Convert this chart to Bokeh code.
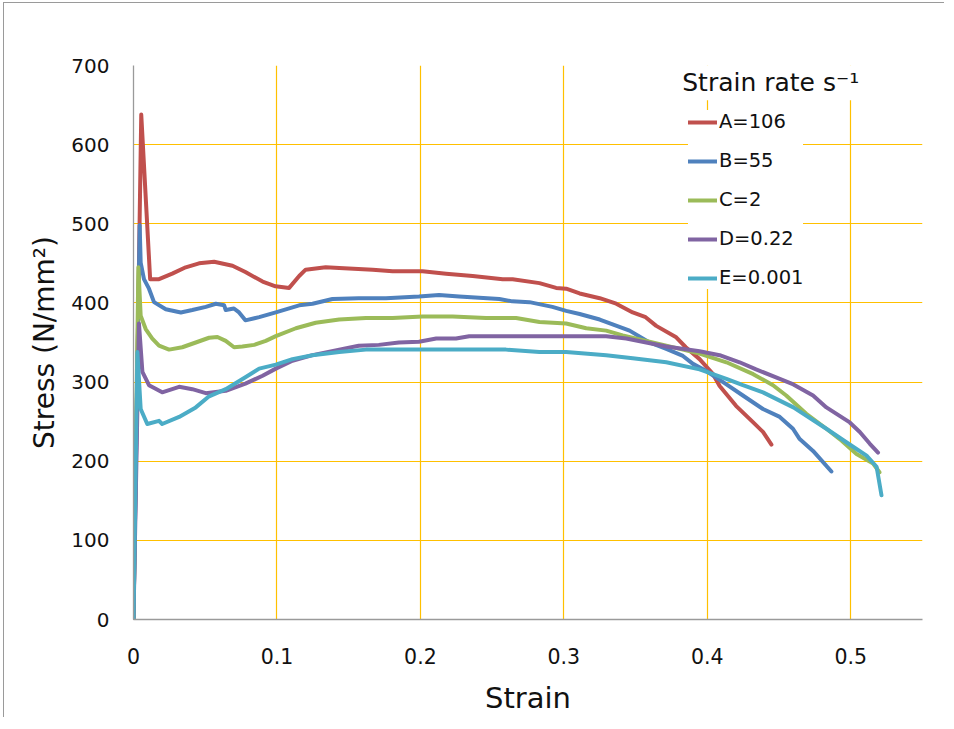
from bokeh.plotting import figure
from bokeh.models import (Range1d, FixedTicker, NumeralTickFormatter, Legend, LegendItem,
                          BoxAnnotation, Label)
from bokeh.embed import file_html
from bokeh.resources import INLINE

# ---- data ----
a_strain = [0, 0.0054, 0.0116, 0.0178, 0.027, 0.0364, 0.0457, 0.0562, 0.069, 0.078, 0.090, 0.099,
            0.1085, 0.1155, 0.120, 0.134, 0.1434, 0.1667, 0.1806, 0.2015, 0.2179, 0.2364, 0.2574,
            0.2643, 0.283, 0.2946, 0.3016, 0.311, 0.325, 0.3365, 0.348, 0.357, 0.3644, 0.378,
            0.385, 0.3946, 0.404, 0.4086, 0.420, 0.432, 0.4388, 0.4447]
a_stress = [0, 638, 430, 430, 437, 445, 450, 452, 447, 439, 427, 421,
            419, 434, 442, 445, 444, 442, 440, 440, 437, 434, 430,
            430, 425, 419, 418, 412, 406, 399, 388, 382, 371, 357,
            344, 329, 310, 295, 270, 249, 237, 221]

b_strain = [0, 0.0043, 0.005, 0.0073, 0.0108, 0.0143, 0.0225, 0.033, 0.041, 0.0504, 0.0574, 0.0632,
            0.0643, 0.070, 0.0736, 0.078, 0.0876, 0.0992, 0.1155, 0.1248, 0.1387, 0.157, 0.176,
            0.199, 0.213, 0.227, 0.255, 0.264, 0.276, 0.292, 0.3016, 0.311, 0.325, 0.334, 0.3458,
            0.3597, 0.3714, 0.383, 0.390, 0.3993, 0.411, 0.4248, 0.4388, 0.4505, 0.4597, 0.4644,
            0.4737, 0.4865]
b_stress = [0, 498, 451, 430, 418, 401, 392, 388, 391, 395, 399, 397,
            391, 393, 388, 378, 382, 388, 397, 399, 405, 406, 406,
            408, 410, 408, 405, 402, 401, 395, 390, 386, 379, 373, 365,
            350, 342, 333, 323, 314, 300, 283, 266, 256, 241, 228,
            213, 187]

c_strain = [0, 0.0034, 0.005, 0.0085, 0.0131, 0.0178, 0.0248, 0.034, 0.0434, 0.0527, 0.0585, 0.0643,
            0.0701, 0.0759, 0.0841, 0.0922, 0.0992, 0.1132, 0.127, 0.1434, 0.162, 0.1806, 0.2015,
            0.2225, 0.2458, 0.2667, 0.283, 0.3016, 0.3156, 0.3295, 0.341, 0.3574, 0.3714, 0.3946,
            0.4133, 0.432, 0.4458, 0.455, 0.469, 0.483, 0.4923, 0.504, 0.5156, 0.520]
c_stress = [0, 445, 384, 367, 355, 346, 341, 344, 350, 356, 357, 352,
            344, 345, 347, 352, 358, 368, 375, 379, 381, 381, 383,
            383, 381, 381, 376, 374, 368, 365, 359, 352, 346, 336,
            325, 310, 296, 283, 260, 241, 228, 209, 197, 186]

d_strain = [0, 0.0038, 0.0062, 0.0108, 0.020, 0.0318, 0.041, 0.0504, 0.0643, 0.078, 0.090, 0.0992,
            0.1108, 0.1248, 0.1434, 0.157, 0.171, 0.185, 0.199, 0.211, 0.2248, 0.234, 0.255,
            0.3295, 0.3435, 0.3574, 0.3714, 0.3946, 0.4086, 0.4225, 0.434, 0.4505, 0.46, 0.4737,
            0.483, 0.4993, 0.5063, 0.5133, 0.519]
d_stress = [0, 374, 313, 296, 287, 294, 291, 286, 289, 298, 308, 317,
            327, 334, 341, 346, 347, 350, 351, 355, 355, 358, 358,
            358, 355, 350, 345, 339, 334, 325, 316, 304, 297, 283,
            268, 249, 237, 222, 211]

e_strain = [0, 0.0027, 0.005, 0.0096, 0.0178, 0.020, 0.0318, 0.0434, 0.0527, 0.0643, 0.078, 0.0876,
            0.0992, 0.1108, 0.1248, 0.1434, 0.162, 0.2597, 0.283, 0.3016, 0.3295, 0.348, 0.3714,
            0.3946, 0.4133, 0.4248, 0.4388, 0.46, 0.483, 0.4969, 0.511, 0.518, 0.5214]
e_stress = [0, 338, 266, 247, 251, 247, 256, 268, 282, 291, 306, 317,
            322, 329, 334, 338, 341, 341, 338, 338, 334, 330, 325,
            316, 304, 296, 287, 268, 241, 224, 207, 193, 157]

series_labels = ["A=106", "B=55", "C=2", "D=0.22", "E=0.001"]
series_colors = ["#C0504D", "#4F81BD", "#9BBB59", "#8064A2", "#4BACC6"]
x_ticks = [0, 0.1, 0.2, 0.3, 0.4, 0.5]
y_ticks = [0, 100, 200, 300, 400, 500, 600, 700]

FONT = "DejaVu Sans"
GRID = "#FFC000"

p = figure(width=941, height=715, output_backend="svg", toolbar_location=None,
           x_range=Range1d(0, 0.55), y_range=Range1d(0, 700),
           min_border_left=129, min_border_right=23, min_border_top=62, min_border_bottom=99,
           styles={"border-left": "1px solid #9a9a9a", "border-top": "1px solid #9a9a9a",
                   "margin-left": "3px", "margin-top": "2px"})
p.outline_line_color = None
p.background_fill_color = "white"
p.border_fill_color = "white"

p.xaxis.ticker = FixedTicker(ticks=x_ticks)
p.yaxis.ticker = FixedTicker(ticks=y_ticks)
p.xaxis.formatter = NumeralTickFormatter(format="0.[0]")
p.xgrid.ticker = FixedTicker(ticks=x_ticks[1:])
p.ygrid.ticker = FixedTicker(ticks=y_ticks[1:])
p.xgrid.grid_line_color = GRID
p.ygrid.grid_line_color = GRID
p.xgrid.grid_line_width = 1.2
p.ygrid.grid_line_width = 1.2

for ax in (p.xaxis[0], p.yaxis[0]):
    ax.axis_line_color = "#9a9a9a"
    ax.axis_line_width = 1.3
    ax.major_tick_line_color = None
    ax.minor_tick_line_color = None
    ax.major_tick_out = 0
    ax.major_tick_in = 0
    ax.minor_tick_out = 0
    ax.major_label_text_font = FONT
    ax.major_label_text_color = "#111111"
    ax.axis_label_text_font = FONT
    ax.axis_label_text_font_style = "normal"
    ax.axis_label_text_color = "#111111"

p.xaxis.major_label_text_font_size = "20.5px"
p.yaxis.major_label_text_font_size = "20px"
p.xaxis.major_label_standoff = 28
p.yaxis.major_label_standoff = 24
p.xaxis.axis_label = "Strain"
p.yaxis.axis_label = "Stress (N/mm²)"
p.xaxis.axis_label_text_font_size = "29px"
p.yaxis.axis_label_text_font_size = "28px"
p.xaxis.axis_label_standoff = 14
p.yaxis.axis_label_standoff = 7

all_x = [a_strain, b_strain, c_strain, d_strain, e_strain]
all_y = [a_stress, b_stress, c_stress, d_stress, e_stress]
items = []
for xs, ys, lab, col in zip(all_x, all_y, series_labels, series_colors):
    r = p.line(xs, ys, line_color=col, line_width=4, line_join="round", line_cap="round")
    items.append(LegendItem(label=lab, renderers=[r]))

# title background for the legend
p.add_layout(BoxAnnotation(left=0.38, right=0.5077, bottom=656, top=703,
                           fill_color="white", fill_alpha=1, line_color=None, level="underlay"))
p.add_layout(Label(x=0.3825, y=679, text="Strain rate s⁻¹", text_font=FONT,
                   text_font_size="25px", text_color="#111111", text_baseline="middle"))

legend = Legend(items=items, location=(555, 330), orientation="vertical",
                background_fill_color="white", background_fill_alpha=1,
                border_line_color=None, padding=9, margin=0, spacing=16,
                label_text_font=FONT, label_text_font_size="19.5px", label_text_color="#111111",
                label_height=20, glyph_height=20, glyph_width=29, label_standoff=2)
p.add_layout(legend)

open("out.html", "w").write(file_html(p, INLINE))
